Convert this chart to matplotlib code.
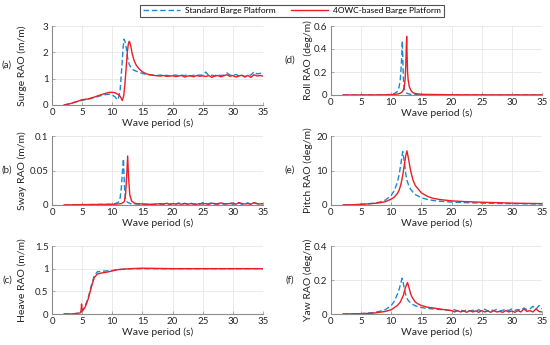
import matplotlib
matplotlib.use("Agg")
import matplotlib.pyplot as plt
import numpy as np

plt.rcParams['font.family'] = ['Lato', 'DejaVu Sans']

BLUE = '#1a8ad4'
RED = '#ee1c25'

# ---------- data ----------
tail_T = [17.0 + 0.5 * i for i in range(37)]  # 17 .. 35

# (a) Surge
surge_T_head = [2, 3, 4, 5, 6, 7, 8, 9, 9.5, 10, 10.5, 10.8, 11.0, 11.3, 11.6, 11.8, 11.95, 12.1, 12.3, 12.5,
                12.8, 13.1, 13.5, 14, 14.5, 15, 15.5, 16, 16.5]
surge_std_head = [0, 0.05, 0.12, 0.18, 0.22, 0.28, 0.35, 0.40, 0.41, 0.38, 0.30, 0.20, 0.24, 0.55, 1.5, 2.2, 2.5,
                  2.42, 2.2, 1.85, 1.55, 1.42, 1.33, 1.28, 1.24, 1.2, 1.17, 1.15, 1.14]
surge_std_tail = [1.13, 1.12, 1.14, 1.11, 1.13, 1.10, 1.12, 1.14, 1.11, 1.13, 1.12, 1.15, 1.10, 1.13, 1.12, 1.14,
                  1.13, 1.25, 1.12, 1.13, 1.11, 1.15, 1.12, 1.13, 1.22, 1.14, 1.12, 1.16, 1.11, 1.13, 1.06, 1.12,
                  1.14, 1.26, 1.18, 1.20, 1.23]
surge_owc_T_head = [2, 3, 4, 5, 6, 7, 8, 9, 9.5, 10, 10.5, 11, 11.3, 11.66, 11.9, 12.1, 12.3, 12.5, 12.65, 12.8,
                    12.95, 13.1, 13.3, 13.6, 14, 14.5, 15, 15.5, 16, 16.5]
surge_owc_head = [0, 0.05, 0.12, 0.20, 0.23, 0.30, 0.38, 0.45, 0.48, 0.48, 0.46, 0.40, 0.33, 0.17, 0.35, 0.8,
                  1.4, 2.0, 2.3, 2.42, 2.35, 2.2, 1.95, 1.7, 1.5, 1.36, 1.26, 1.2, 1.16, 1.14]
surge_owc_tail = [1.12, 1.11, 1.10, 1.12, 1.09, 1.10, 1.11, 1.08, 1.10, 1.12, 1.06, 1.10, 1.11, 1.07, 1.12, 1.09,
                  1.11, 1.08, 1.12, 1.05, 1.10, 1.12, 1.07, 1.11, 1.15, 1.09, 1.12, 1.06, 1.10, 1.13, 1.08, 1.12,
                  1.05, 1.15, 1.10, 1.12, 1.10]

# (b) Sway
sway_T_head = [2, 5, 8, 10, 10.5, 11, 11.3, 11.5, 11.7, 11.85, 12.0, 12.2, 12.5, 13, 14, 15, 16]
sway_std_head = [0, 0.0005, 0.0008, 0.001, 0.002, 0.004, 0.01, 0.025, 0.05, 0.067, 0.03, 0.008, 0.004, 0.002,
                 0.0015, 0.001, 0.001]
sway_std_tail = [0.001, 0.002, 0.001, 0.0015, 0.003, 0.001, 0.002, 0.001, 0.003, 0.001, 0.002, 0.0015, 0.003,
                 0.001, 0.002, 0.001, 0.0035, 0.001, 0.002, 0.003, 0.001, 0.002, 0.0035, 0.001, 0.002, 0.003,
                 0.001, 0.002, 0.003, 0.001, 0.002, 0.003, 0.001, 0.003, 0.002, 0.001, 0.002]
sway_owc_T_head = [2, 5, 8, 10, 11, 11.5, 12.0, 12.2, 12.4, 12.55, 12.7, 12.9, 13.2, 13.6, 14, 15, 16]
sway_owc_head = [0, 0.0005, 0.0008, 0.001, 0.0015, 0.002, 0.005, 0.015, 0.045, 0.071, 0.04, 0.015, 0.006, 0.003,
                 0.002, 0.0015, 0.001]
sway_owc_tail = [0.001, 0.0015, 0.002, 0.001, 0.0025, 0.001, 0.002, 0.0015, 0.002, 0.001, 0.0025, 0.001, 0.002,
                 0.0015, 0.001, 0.002, 0.0015, 0.002, 0.001, 0.0025, 0.002, 0.001, 0.003, 0.002, 0.0015, 0.002,
                 0.003, 0.001, 0.0035, 0.002, 0.0015, 0.002, 0.001, 0.0035, 0.002, 0.0015, 0.002]

# (c) Heave
heave_T = [2, 3, 4, 4.5, 4.8, 4.9, 5.0, 5.5, 6, 6.5, 7, 7.5, 8, 9, 10, 11, 12, 13, 15, 20, 25, 30, 35]
heave_std = [0, 0, 0.01, 0.03, 0.06, 0.07, 0.08, 0.18, 0.35, 0.62, 0.84, 0.93, 0.94, 0.95, 0.96, 0.98, 0.99,
             1.0, 1.0, 1.0, 1.0, 1.0, 1.0]
heave_owc = [0, 0, 0.01, 0.02, 0.03, 0.22, 0.06, 0.15, 0.33, 0.58, 0.80, 0.88, 0.90, 0.92, 0.95, 0.98, 0.99,
             1.0, 1.01, 1.0, 1.0, 1.0, 1.0]

# (d) Roll
roll_T = [2, 8, 10, 10.5, 11, 11.3, 11.5, 11.65, 11.75, 11.83, 11.92, 12.0, 12.1, 12.2, 12.3, 12.4, 12.48,
          12.55, 12.62, 12.7, 12.8, 13.0, 13.3, 13.6, 14, 15, 20, 25, 30, 35]
roll_std = [0, 0.001, 0.005, 0.012, 0.03, 0.07, 0.14, 0.25, 0.36, 0.47, 0.3, 0.15, 0.08, 0.05, 0.035, 0.025,
            0.02, 0.018, 0.015, 0.013, 0.011, 0.008, 0.006, 0.004, 0.003, 0.002, 0.001, 0.001, 0.001, 0.001]
roll_owc = [0, 0.001, 0.003, 0.005, 0.008, 0.012, 0.016, 0.02, 0.025, 0.03, 0.035, 0.045, 0.06, 0.09, 0.14,
            0.25, 0.4, 0.51, 0.35, 0.2, 0.13, 0.07, 0.035, 0.02, 0.012, 0.006, 0.002, 0.001, 0.001, 0.001]

# (e) Pitch
pitch_T = [2, 4, 5, 6, 7, 8, 9, 10, 10.5, 11, 11.3, 11.6, 11.9, 12.2, 12.4, 12.6, 12.9, 13.2, 13.6, 14, 15, 16,
           17, 18, 20, 22, 25, 28, 30, 33, 35]
pitch_std = [0, 0.1, 0.2, 0.3, 0.5, 0.8, 1.4, 2.8, 4.2, 6.5, 8.8, 12.0, 15.5, 12.0, 9.0, 7.2, 5.6, 4.6, 3.7,
             3.0, 2.1, 1.6, 1.3, 1.1, 0.85, 0.7, 0.55, 0.45, 0.4, 0.33, 0.3]
pitch_owc = [0, 0.1, 0.2, 0.3, 0.45, 0.6, 0.95, 1.7, 2.3, 3.3, 4.3, 6.0, 8.6, 12.0, 14.3, 15.7, 13.0, 10.0,
             7.2, 5.6, 3.5, 2.5, 1.9, 1.6, 1.2, 1.0, 0.8, 0.65, 0.55, 0.45, 0.4]

# (f) Yaw
yaw_T_head = [2, 5, 7, 8, 9, 10, 10.5, 11, 11.3, 11.6, 11.8, 12.0, 12.2, 12.5, 12.8, 13.2, 13.6, 14, 15, 16]
yaw_std_head = [0, 0.002, 0.008, 0.015, 0.025, 0.05, 0.075, 0.115, 0.145, 0.185, 0.21, 0.18, 0.14, 0.1, 0.08,
                0.065, 0.055, 0.048, 0.038, 0.032]
yaw_std_tail = [0.03, 0.028, 0.027, 0.025, 0.024, 0.022, 0.02, 0.025, 0.018, 0.024, 0.016, 0.025, 0.018, 0.022,
                0.016, 0.025, 0.017, 0.028, 0.018, 0.024, 0.02, 0.027, 0.018, 0.022, 0.028, 0.02, 0.03, 0.022,
                0.026, 0.022, 0.035, 0.025, 0.03, 0.045, 0.028, 0.05, 0.03]
yaw_owc_T_head = [2, 5, 7, 8, 9, 10, 11, 11.5, 12, 12.3, 12.5, 12.7, 12.9, 13.2, 13.5, 14, 14.5, 15, 16]
yaw_owc_head = [0, 0.002, 0.005, 0.01, 0.015, 0.025, 0.05, 0.07, 0.11, 0.15, 0.17, 0.185, 0.16, 0.12, 0.095,
                0.07, 0.058, 0.05, 0.04]
yaw_owc_tail = [0.035, 0.032, 0.03, 0.027, 0.025, 0.022, 0.02, 0.012, 0.02, 0.012, 0.018, 0.01, 0.02, 0.012,
                0.018, 0.01, 0.02, 0.012, 0.018, 0.01, 0.02, 0.012, 0.015, 0.01, 0.02, 0.012, 0.018, 0.01, 0.02,
                0.012, 0.03, 0.015, 0.02, 0.012, 0.03, 0.015, 0.012]

panels = [
    dict(label='(a)', ylabel='Surge RAO (m/m)', ylim=(0, 3), yticks=[0, 1, 2, 3], ytl=['0', '1', '2', '3'],
         std=(surge_T_head + tail_T, surge_std_head + surge_std_tail),
         owc=(surge_owc_T_head + tail_T, surge_owc_head + surge_owc_tail),
         rect=[52 / 550, 1 - 105 / 345, 211 / 550, 79 / 345]),
    dict(label='(b)', ylabel='Sway RAO (m/m)', ylim=(0, 0.1), yticks=[0, 0.05, 0.1], ytl=['0', '0.05', '0.1'],
         std=(sway_T_head + tail_T, sway_std_head + sway_std_tail),
         owc=(sway_owc_T_head + tail_T, sway_owc_head + sway_owc_tail),
         rect=[52 / 550, 1 - 205 / 345, 211 / 550, 69 / 345]),
    dict(label='(c)', ylabel='Heave RAO (m/m)', ylim=(0, 1.5), yticks=[0, 0.5, 1, 1.5],
         ytl=['0', '0.5', '1', '1.5'],
         std=(heave_T, heave_std), owc=(heave_T, heave_owc),
         rect=[52 / 550, 1 - 314 / 345, 211 / 550, 68 / 345]),
    dict(label='(d)', ylabel='Roll RAO (deg/m)', ylim=(0, 0.6), yticks=[0, 0.2, 0.4, 0.6],
         ytl=['0', '0.2', '0.4', '0.6'],
         std=(roll_T, roll_std), owc=(roll_T, roll_owc),
         rect=[331 / 550, 1 - 95 / 345, 211 / 550, 69 / 345]),
    dict(label='(e)', ylabel='Pitch RAO (deg/m)', ylim=(0, 20), yticks=[0, 10, 20], ytl=['0', '10', '20'],
         std=(pitch_T, pitch_std), owc=(pitch_T, pitch_owc),
         rect=[331 / 550, 1 - 205 / 345, 211 / 550, 69 / 345]),
    dict(label='(f)', ylabel='Yaw RAO (deg/m)', ylim=(0, 0.4), yticks=[0, 0.2, 0.4], ytl=['0', '0.2', '0.4'],
         std=(yaw_T_head + tail_T, yaw_std_head + yaw_std_tail),
         owc=(yaw_owc_T_head + tail_T, yaw_owc_head + yaw_owc_tail),
         rect=[331 / 550, 1 - 314 / 345, 211 / 550, 68 / 345]),
]

fig = plt.figure(figsize=(5.5, 3.45), dpi=100)
handles = None
for p in panels:
    ax = fig.add_axes(p['rect'])
    l1, = ax.plot(p['std'][0], p['std'][1], color=BLUE, lw=1.0, ls=(0, (4, 2)), label='Standard Barge Platform')
    l2, = ax.plot(p['owc'][0], p['owc'][1], color=RED, lw=1.0, label='4OWC-based Barge Platform')
    handles = [l1, l2]
    ax.set_xlim(0, 35)
    ax.set_ylim(*p['ylim'])
    ax.set_xticks(range(0, 36, 5))
    ax.set_yticks(p['yticks'])
    ax.set_yticklabels(p['ytl'])
    ax.grid(True, color='#e6e6e6', lw=0.6)
    ax.set_axisbelow(True)
    for s in ['top', 'right']:
        ax.spines[s].set_visible(False)
    for s in ['left', 'bottom']:
        ax.spines[s].set_color('#8c8c8c')
        ax.spines[s].set_linewidth(0.8)
    ax.tick_params(direction='in', length=2, width=0.5, color='#8c8c8c', labelsize=7, pad=2.5,
                   labelcolor='#262626')
    ax.set_xlabel('Wave period (s)', fontsize=7.5, labelpad=1, color='#262626')
    ax.set_ylabel(p['ylabel'], fontsize=7.5, color='#262626', va='center')
    x0 = p['rect'][0]
    # ylabel centre position in pixels
    ylx = 22 if x0 < 0.5 else 308
    ax.yaxis.set_label_coords((ylx - x0 * 550) / 211, 0.5)
    yc = p['rect'][1] + p['rect'][3] / 2
    lx = 7 / 550 if x0 < 0.5 else 290 / 550
    fig.text(lx, yc, p['label'], fontsize=7, ha='center', va='center', color='#262626')

leg = fig.legend(handles=handles, loc='center', bbox_to_anchor=(292 / 550, 1 - 10.5 / 345), ncol=2,
                 fontsize=6, frameon=True, fancybox=False, edgecolor='#262626', handlelength=4.5,
                 columnspacing=1.8, borderpad=0.3, handletextpad=0.6)
leg.get_frame().set_linewidth(0.8)

fig.savefig('out.png', dpi=100)
